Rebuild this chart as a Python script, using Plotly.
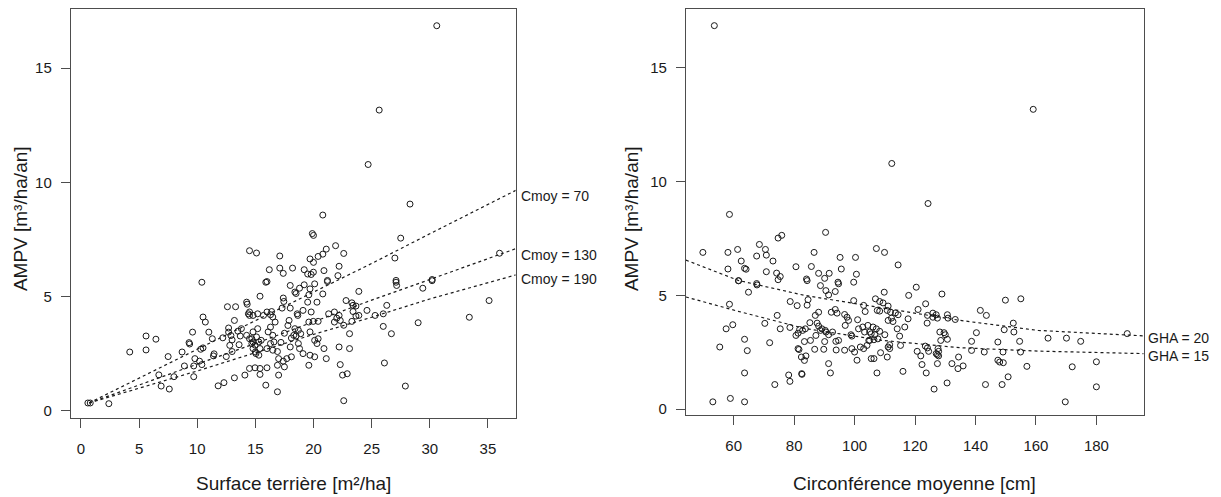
import plotly.graph_objects as go

# ---------------- data ----------------
# Left panel: Surface terrière [m²/ha] vs AMPV
left_x = [30.6, 25.65, 24.7, 28.3, 20.8, 19.9, 20.0, 27.5,
          14.5, 15.1, 17.1, 16.2, 17.1, 17.4, 18.2, 19.2, 19.5, 19.8, 19.99,
          19.7, 20.0, 20.4, 20.8, 21.1, 21.9, 22.6, 20.9, 22.2, 22.1, 27.0, 27.1,
          30.2, 16.0, 21.2,
          0.6, 0.8, 2.4, 4.2, 5.6, 5.6, 6.45, 6.7, 6.9, 7.6, 7.5, 8.0, 8.7, 8.9,
          9.3, 9.35, 9.6, 9.7, 9.7, 9.8, 10.2, 10.4, 10.3, 10.5, 10.5, 10.7, 11.0,
          11.3, 11.4, 11.45, 11.8, 12.3, 12.2, 12.5, 12.6, 12.7, 12.8, 13.2, 13.2,
          13.3, 13.5, 14.1, 14.25, 14.3, 14.4, 14.5, 10.4,
          13.7, 13.8, 14.25, 14.7, 14.8, 15.0, 14.8, 12.7, 13.0, 13.0, 13.6, 12.9,
          15.9, 15.4, 18.0, 18.4, 18.5, 18.8, 19.2, 19.7, 20.1, 21.2, 17.4, 17.45,
          17.3, 18.0, 18.6, 18.65, 19.1, 19.5, 19.6, 20.3, 20.8, 20.4, 19.8, 17.9,
          17.8, 18.4, 18.7, 18.9, 18.3, 18.1, 18.5, 19.98, 19.6, 19.7, 20.1, 20.4,
          20.3, 20.9, 19.7, 20.1, 21.1, 19.6, 19.1, 18.8, 18.7,
          14.5, 14.8, 15.2, 15.7, 16.0, 16.3, 16.4, 16.5, 16.7, 16.3, 16.1, 16.5,
          16.6, 16.3, 16.0, 16.5, 15.1, 15.2, 14.8, 14.5, 14.7, 14.97, 15.3, 15.4,
          15.05, 15.3, 15.5, 17.0, 17.4, 17.5, 17.7, 18.1, 16.9, 17.0, 14.5, 14.97,
          15.4, 16.0, 15.4, 15.9, 16.9,
          21.3, 21.8, 22.0, 22.2, 21.8, 22.3, 22.8, 23.3, 23.4, 23.65, 23.9, 23.65,
          23.3, 23.4, 23.9, 22.6, 23.1, 22.2, 23.1, 22.3, 22.5, 22.9, 22.6, 24.6,
          25.3, 26.0, 26.3, 27.1, 27.15, 29.4, 30.2, 26.0, 26.7, 26.1, 29.0, 27.9,
          33.4, 35.1, 36.0, 16.9, 17.2, 17.5, 18.0]
left_y = [16.85, 13.16, 10.78, 9.05, 8.57, 7.76, 7.68, 7.56,
          7.01, 6.91, 6.78, 6.18, 6.25, 6.02, 6.25, 6.18, 5.99, 5.97, 6.07,
          6.65, 6.50, 6.76, 6.86, 7.08, 7.23, 6.89, 6.14, 6.33, 5.92, 6.69, 5.71,
          5.75, 5.66, 5.71,
          0.35, 0.35, 0.32, 2.58, 3.28, 2.67, 3.14, 1.58, 1.09, 0.96, 2.38, 1.50, 2.58, 1.97,
          2.99, 2.93, 3.45, 1.50, 1.97, 2.29, 2.18, 2.03, 2.70, 2.76, 4.11, 3.89, 3.45,
          3.16, 2.41, 2.50, 1.10, 1.24, 3.20, 2.38, 4.56, 3.63, 2.87, 1.45, 3.96,
          4.56, 3.49, 1.57, 4.76, 4.67, 4.25, 4.18, 5.63,
          3.28, 3.60, 3.31, 3.16, 2.73, 2.58, 3.02, 3.45, 3.11, 2.60, 2.90, 3.30,
          5.63, 5.02, 5.49, 5.20, 5.14, 5.37, 5.52, 5.34, 5.56, 5.66, 4.94, 4.79,
          4.50, 4.50, 4.25, 4.18, 4.40, 4.76, 5.08, 4.76, 5.12, 3.92, 4.33, 3.96,
          3.74, 3.60, 3.53, 3.38, 3.31, 3.19, 3.28, 3.92, 3.89, 3.46, 3.09, 3.16,
          2.95, 2.73, 2.44, 2.37, 2.29, 2.00, 2.51, 2.73, 2.95,
          4.33, 4.18, 4.25, 4.18, 4.33, 4.21, 4.35, 4.11, 3.89, 3.67, 3.46, 3.31,
          3.02, 2.95, 2.73, 2.66, 3.24, 3.60, 3.46, 3.16, 2.95, 2.88, 3.02, 2.73,
          2.51, 2.44, 3.09, 2.29, 2.18, 1.93, 2.29, 2.37, 2.00, 1.57, 1.86, 1.89,
          1.86, 1.89, 1.60, 1.13, 0.84,
          4.25, 4.33, 4.06, 4.18, 3.89, 3.96, 4.83, 4.73, 4.62, 4.59, 5.23, 4.15,
          3.92, 4.35, 4.18, 3.75, 3.38, 2.80, 2.73, 2.03, 1.57, 1.63, 0.45, 4.40,
          4.18, 4.25, 4.62, 5.63, 5.49, 5.37, 5.70, 3.70, 3.38, 2.10, 3.86, 1.09,
          4.10, 4.83, 6.90, 2.60, 3.00, 3.40, 2.80]

# Left panel model curves
curve_left_x = [0.7, 5, 10, 15, 20, 25, 30, 37.4]
cmoy70_y = [0.35, 1.45, 2.70, 3.95, 5.20, 6.45, 7.75, 9.65]
cmoy130_y = [0.35, 1.15, 2.05, 2.95, 3.90, 4.85, 5.75, 7.10]
cmoy190_y = [0.35, 1.00, 1.75, 2.55, 3.35, 4.10, 4.90, 5.95]
left_labels = ["Cmoy = 70", "Cmoy = 130", "Cmoy = 190"]
left_label_y = [9.41, 6.82, 5.78]

# Right panel: Circonférence moyenne [cm] vs AMPV
right_x = [53.6, 159.1, 112.3, 124.3, 58.6, 90.4, 74.7, 75.9, 49.8, 58.1, 61.3, 68.5,
           70.5, 67.6, 70.8, 73.0, 62.5, 63.6, 64.1, 58.1, 70.8, 74.2, 75.4, 80.6,
           86.6, 85.7, 88.1, 90.1, 91.6, 95.2, 100.3, 95.6, 100.6, 84.1, 94.5, 99.7,
           61.6, 67.6, 74.7, 107.2, 109.9, 114.4,
           53.1, 58.9, 63.6, 63.6, 55.4, 58.6, 57.5, 59.7, 63.6, 64.5, 61.6, 64.9,
           67.7, 70.3, 71.9, 74.4, 75.4, 73.6, 78.2, 78.6, 78.7, 78.6, 84.3, 84.6,
           81.0, 84.3, 80.6, 81.3, 81.3, 81.6, 82.4, 83.9, 83.4, 82.5, 82.6, 83.4,
           85.4, 85.2, 87.0, 88.1, 86.8, 90.1, 89.8, 91.4, 92.0, 93.9,
           81.8, 82.8, 83.7, 87.6, 88.1, 89.2, 87.2, 88.7, 90.3, 90.5, 88.7, 90.5,
           91.4, 93.6, 94.7, 92.3, 93.6, 94.2, 91.4, 92.7, 93.8, 94.7, 96.7, 97.5,
           96.9, 98.0, 98.8, 99.1, 96.7, 99.1, 100.0, 100.8, 99.7, 103.0, 103.5,
           101.0, 101.3, 102.7, 103.3, 101.9, 103.0, 104.1, 104.7, 105.5,
           169.7, 155.0, 149.9, 141.6, 143.6, 152.5, 152.7, 149.5, 154.6, 154.9,
           157.0, 150.8, 148.8, 143.3, 147.4, 149.1, 147.4, 148.0, 149.2, 142.9,
           138.7, 138.7, 140.3, 134.4, 135.9, 134.2, 132.2, 130.6, 126.3, 130.7,
           133.3, 130.9, 128.9, 120.4, 117.9, 123.5, 121.0, 124.1, 124.0, 125.9,
           127.0, 125.9, 127.4, 128.2, 129.6, 130.0, 128.5, 130.7, 127.6, 127.8,
           127.4, 127.8, 127.0, 124.5, 124.1, 123.4, 120.7, 121.9, 122.3, 123.7,
           127.4, 116.0, 107.4, 117.7, 116.6, 114.1, 114.9, 115.2, 164.0, 170.1,
           109.8, 106.9, 108.3, 109.4, 107.5, 108.3, 111.1, 110.8, 111.9, 113.5,
           114.4, 112.2, 111.1, 112.7, 104.4, 106.1, 107.2, 108.3, 105.0, 105.5,
           106.7, 105.0, 106.4, 107.7, 110.0, 111.6, 111.1, 111.6, 108.6, 110.8,
           106.4, 190.2, 180.0, 180.0, 174.8, 172.0]
right_y = [16.86, 13.18, 10.80, 9.04, 8.56, 7.77, 7.52, 7.64, 6.89, 6.89, 7.02, 7.24,
           7.02, 6.73, 6.77, 6.51, 6.51, 6.19, 6.15, 6.16, 6.04, 5.98, 5.83, 6.26,
           6.89, 6.27, 5.97, 5.75, 5.97, 6.67, 6.67, 6.16, 5.93, 5.72, 5.58, 5.58,
           5.64, 5.52, 5.69, 7.06, 6.89, 6.34,
           0.32, 0.47, 0.32, 1.59, 2.73, 4.61, 3.53, 3.71, 3.07, 2.57, 5.65, 5.14,
           5.46, 3.77, 2.92, 4.12, 3.53, 1.08, 1.50, 1.22, 4.73, 3.59, 5.65, 4.81,
           4.55, 4.57, 3.24, 3.34, 2.66, 2.62, 2.29, 2.34, 2.14, 1.56, 1.53, 2.97,
           3.02, 3.80, 4.12, 4.26, 2.63, 2.97, 2.63, 2.00, 1.59, 2.60,
           3.50, 3.46, 3.53, 3.78, 3.65, 3.53, 3.24, 3.46, 3.46, 3.39, 5.43, 5.21,
           5.02, 5.17, 5.51, 4.26, 4.38, 4.22, 3.27, 3.39, 2.98, 3.02, 4.16, 4.04,
           3.68, 3.90, 3.27, 3.21, 2.59, 2.66, 2.51, 2.15, 4.77, 4.56, 4.29,
           3.93, 3.53, 3.61, 3.39, 2.73, 2.66, 2.80, 3.02, 2.22,
           0.32, 4.85, 4.79, 4.34, 4.12, 3.78, 3.39, 3.49, 2.98, 2.51,
           1.88, 1.42, 1.08, 1.08, 2.95, 2.51, 2.15, 2.07, 2.04, 2.51,
           2.98, 2.58, 3.36, 2.29, 1.90, 1.78, 2.00, 1.15, 0.88, 4.15,
           3.94, 4.00, 5.06, 5.36, 5.00, 4.63, 4.38, 4.12, 3.78, 4.22,
           4.15, 4.04, 4.00, 3.39, 3.36, 3.27, 3.02, 3.07, 2.66, 2.54,
           2.39, 2.34, 2.44, 2.54, 2.69, 2.77, 2.54, 2.34, 1.96, 1.59,
           2.00, 1.66, 1.59, 3.97, 3.61, 3.53, 3.21, 2.80, 3.12, 3.12,
           5.14, 4.85, 4.73, 4.67, 4.34, 4.31, 4.53, 4.34, 4.26, 4.23,
           4.15, 4.00, 3.90, 3.85, 3.68, 3.61, 3.53, 3.42, 3.39, 3.31,
           3.27, 3.02, 3.05, 3.09, 3.27, 2.83, 2.73, 2.66, 2.48, 2.29,
           2.22, 3.32, 2.08, 0.98, 2.98, 1.86]

# Right panel model curves
curve_right_x = [44.2, 61.5, 83.4, 109.2, 134.9, 160.7, 195.6]
gha20_y = [6.55, 5.66, 5.00, 4.44, 3.90, 3.46, 3.22]
gha15_y = [4.93, 4.30, 3.55, 3.02, 2.70, 2.55, 2.44]
right_labels = ["GHA = 20", "GHA = 15"]
right_label_y = [3.13, 2.34]

# ---------------- figure ----------------
W, H = 1221, 497
FONT = "Liberation Sans, Arial, sans-serif"
INK = "#1a1a1a"
FRAME = "#4d4d4d"


def px_x(p):
    return p / W


def px_y(p):
    return 1 - p / H


fig = go.Figure()

marker = dict(symbol="circle-open", size=6, color=INK, line=dict(width=1, color=INK))
fig.add_trace(go.Scatter(x=left_x, y=left_y, mode="markers", marker=marker,
                         xaxis="x", yaxis="y", showlegend=False, hoverinfo="x+y"))
fig.add_trace(go.Scatter(x=right_x, y=right_y, mode="markers", marker=marker,
                         xaxis="x2", yaxis="y2", showlegend=False, hoverinfo="x+y"))

dotline = dict(color=INK, width=1.2, dash="dot")
for ys in (cmoy70_y, cmoy130_y, cmoy190_y):
    fig.add_trace(go.Scatter(x=curve_left_x, y=ys, mode="lines", line=dotline,
                             xaxis="x", yaxis="y", showlegend=False, hoverinfo="skip"))
for ys in (gha20_y, gha15_y):
    fig.add_trace(go.Scatter(x=curve_right_x, y=ys, mode="lines", line=dotline,
                             xaxis="x2", yaxis="y2", showlegend=False, hoverinfo="skip"))

axis_common = dict(
    showline=True, mirror=True, linecolor=FRAME, linewidth=1,
    ticks="outside", ticklen=9, tickwidth=1, tickcolor=FRAME,
    showgrid=False, zeroline=False, fixedrange=True,
    tickfont=dict(family=FONT, size=15, color=INK),
)

fig.update_layout(
    width=W, height=H,
    margin=dict(l=0, r=0, t=0, b=0),
    paper_bgcolor="white", plot_bgcolor="white",
    showlegend=False,
    xaxis=dict(axis_common, domain=[px_x(70.8), px_x(515.6)], range=[-0.87, 37.38],
               tickvals=[0, 5, 10, 15, 20, 25, 30, 35], anchor="y", ticklabelstandoff=8),
    yaxis=dict(axis_common, domain=[px_y(420), px_y(9.3)], range=[-0.32, 17.57],
               tickvals=[0, 5, 10, 15], anchor="x", ticklabelstandoff=6),
    xaxis2=dict(axis_common, domain=[px_x(685.9), px_x(1143.8)], range=[44.19, 195.68],
                tickvals=[60, 80, 100, 120, 140, 160, 180], anchor="y2", ticklabelstandoff=8),
    yaxis2=dict(axis_common, domain=[px_y(416.7), px_y(9.3)], range=[-0.26, 17.58],
                tickvals=[0, 5, 10, 15], anchor="x2", ticklabelstandoff=6),
)

annots = []
title_font = dict(family=FONT, size=19, color=INK)
annots.append(dict(text="Surface terrière [m²/ha]", x=px_x(293), y=px_y(485), xref="paper",
                   yref="paper", showarrow=False, font=title_font, xanchor="center", yanchor="middle"))
annots.append(dict(text="Circonférence moyenne [cm]", x=px_x(914), y=px_y(485), xref="paper",
                   yref="paper", showarrow=False, font=title_font, xanchor="center", yanchor="middle"))
annots.append(dict(text="AMPV [m³/ha/an]", x=px_x(20), y=px_y(220), xref="paper", yref="paper",
                   showarrow=False, font=title_font, textangle=-90, xanchor="center", yanchor="middle"))
annots.append(dict(text="AMPV [m³/ha/an]", x=px_x(631), y=px_y(220), xref="paper", yref="paper",
                   showarrow=False, font=title_font, textangle=-90, xanchor="center", yanchor="middle"))

lab_font = dict(family=FONT, size=14, color=INK)
for t, yv in zip(left_labels, left_label_y):
    annots.append(dict(text=t, x=px_x(519), y=yv, xref="paper", yref="y", showarrow=False,
                       font=lab_font, xanchor="left", yanchor="middle"))
for t, yv in zip(right_labels, right_label_y):
    annots.append(dict(text=t, x=px_x(1146), y=yv, xref="paper", yref="y2", showarrow=False,
                       font=lab_font, xanchor="left", yanchor="middle"))
fig.update_layout(annotations=annots)

fig.write_html("out.html")
